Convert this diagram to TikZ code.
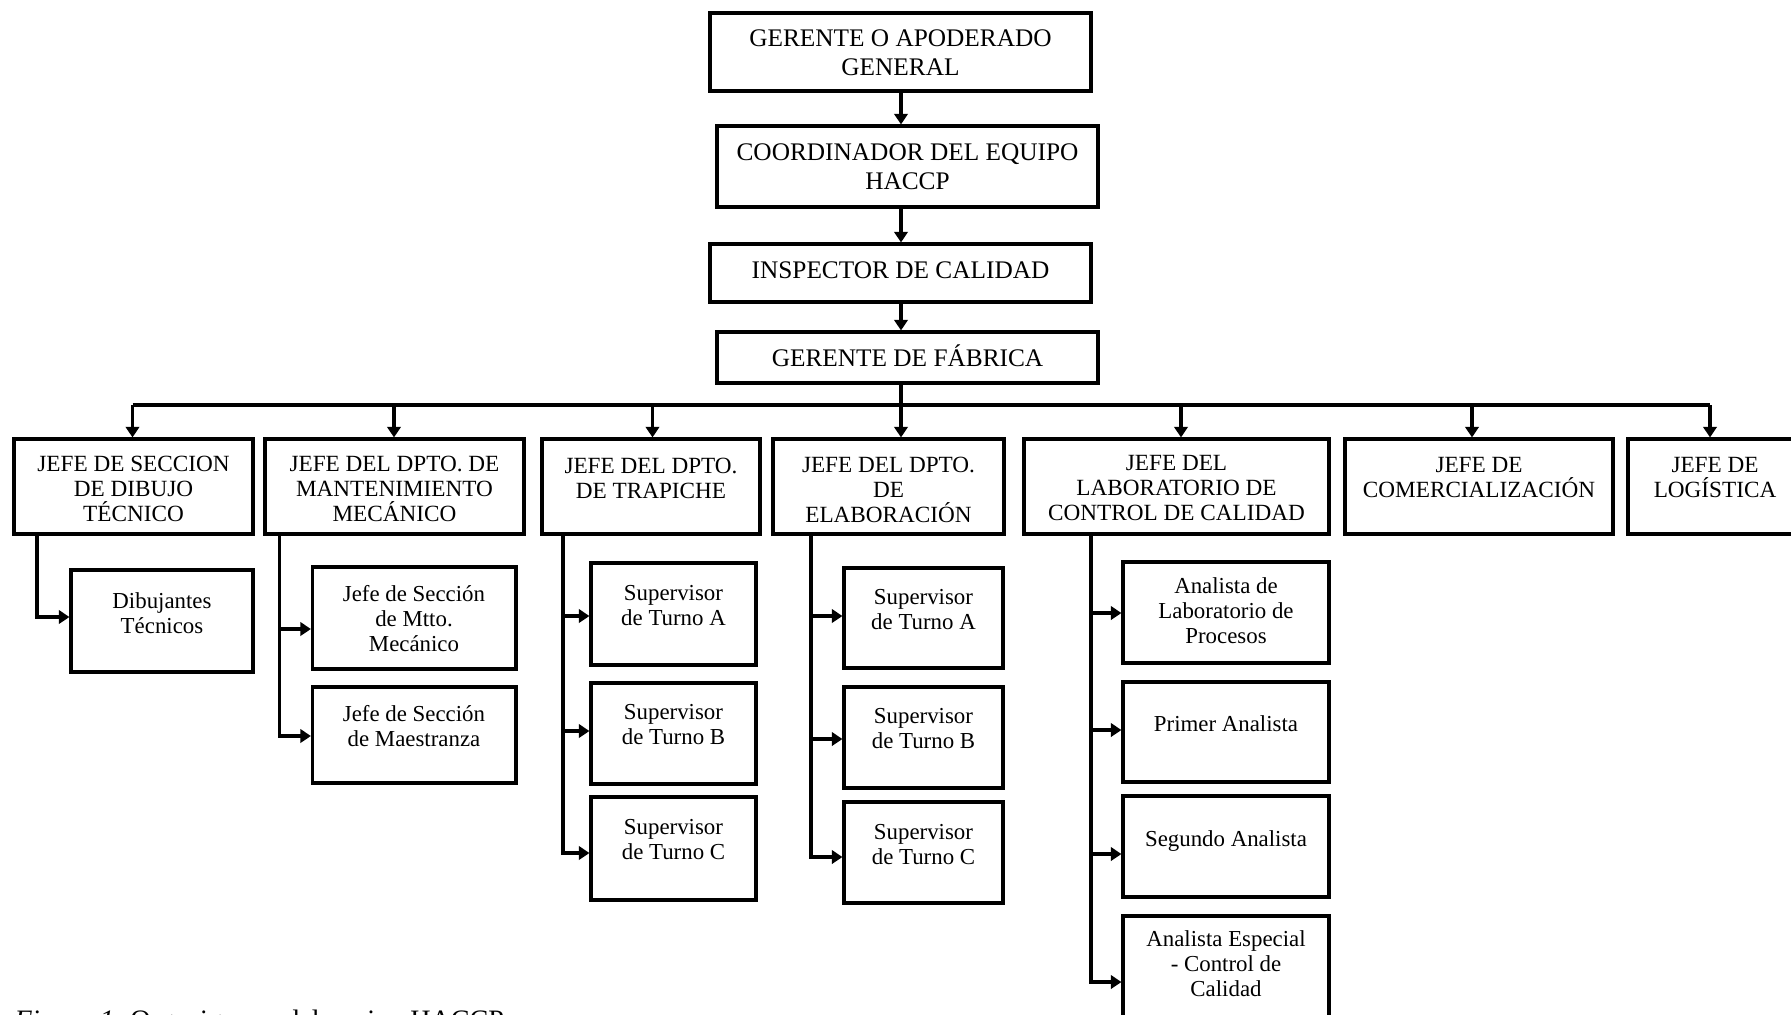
\documentclass[tikz,border=0pt]{standalone}
\usepackage{fontspec}
\setmainfont{Liberation Serif}
\usetikzlibrary{arrows.meta,fit}
\begin{document}
\begin{tikzpicture}[x=0.01cm,y=-0.01cm,
  boxx/.style={draw, line width=0.9pt, inner sep=0pt},
  ln/.style={line width=0.9pt},
  arr/.style={line width=0.9pt, -{Triangle[length=3pt,width=3.8pt]}},
  ta/.style={font=\fontsize{7.2}{8.1}\selectfont, align=center, inner sep=0pt},
  tb/.style={font=\fontsize{6.6}{7.1}\selectfont, align=center, inner sep=0pt, anchor=north},
  tc/.style={font=\fontsize{6.5}{7.1}\selectfont, align=center, inner sep=0pt, anchor=north}]
\useasboundingbox (0,0) rectangle (1791,1014);
\clip (0,0) rectangle (1791,1014);

% top chain
\node[boxx, fit={(710,13) (1091,91)}] (g1) {};
\node[ta, anchor=north] (g1t) at (900.5,29.5) {GERENTE O APODERADO\\GENERAL};
\node[boxx, fit={(717,126) (1098,207)}] (g2) {};
\node[ta, anchor=north] (g2t) at (907.5,143.5) {COORDINADOR DEL EQUIPO\\HACCP};
\node[boxx, fit={(710,244) (1091,302)}] (g3) {};
\node[ta, anchor=north] (g3t) at (900.5,261.5) {INSPECTOR DE CALIDAD};
\node[boxx, fit={(717,332) (1098,383)}] (g4) {};
\node[ta, anchor=base] (g4t) at (907.5,366.5) {GERENTE DE FÁBRICA};

% level 2
\node[boxx, fit={(14,439) (253,534)}] (d1) {};
\node[tb] (d1t) at (133.5,455) {JEFE DE SECCION\\DE DIBUJO\\TÉCNICO};
\node[boxx, fit={(265,439) (524,534)}] (d2) {};
\node[tb] (d2t) at (394.5,455) {JEFE DEL DPTO. DE\\MANTENIMIENTO\\MECÁNICO};
\node[boxx, fit={(542,439) (760,534)}] (d3) {};
\node[tb] (d3t) at (651,457) {JEFE DEL DPTO.\\DE TRAPICHE};
\node[boxx, fit={(773,439) (1004,534)}] (d4) {};
\node[tb] (d4t) at (888.5,456) {JEFE DEL DPTO.\\DE\\ELABORACIÓN};
\node[boxx, fit={(1024,439) (1329,534)}] (d5) {};
\node[tb] (d5t) at (1176.5,455) {JEFE DEL\\LABORATORIO DE\\CONTROL DE CALIDAD};
\node[boxx, fit={(1345,439) (1613,534)}] (d6) {};
\node[tb] (d6t) at (1479,457) {JEFE DE\\COMERCIALIZACIÓN};
\node[boxx, fit={(1628,439) (1802,534)}] (d7) {};
\node[tb] (d7t) at (1715,457) {JEFE DE\\LOGÍSTICA};

% children
\node[boxx, fit={(71,570) (253,672)}] (c11) {};
\node[tc] (c11t) at (162,592) {Dibujantes\\Técnicos};

\node[boxx, fit={(312.5,567) (516,669)}] (c21) {};
\node[tc] (c21t) at (414,585) {Jefe de Sección\\de Mtto.\\Mecánico};
\node[boxx, fit={(312.5,687) (516,783)}] (c22) {};
\node[tc] (c22t) at (414,705) {Jefe de Sección\\de Maestranza};

\node[boxx, fit={(591,563) (756,665)}] (c31) {};
\node[tc] (c31t) at (673.5,585) {Supervisor\\de Turno A};
\node[boxx, fit={(591,683) (756,784)}] (c32) {};
\node[tc] (c32t) at (673.5,704) {Supervisor\\de Turno B};
\node[boxx, fit={(591,797) (756,900)}] (c33) {};
\node[tc] (c33t) at (673.5,819) {Supervisor\\de Turno C};

\node[boxx, fit={(844,568) (1003,668)}] (c41) {};
\node[tc] (c41t) at (923.5,589) {Supervisor\\de Turno A};
\node[boxx, fit={(844,687) (1003,788)}] (c42) {};
\node[tc] (c42t) at (923.5,708) {Supervisor\\de Turno B};
\node[boxx, fit={(844,802) (1003,903)}] (c43) {};
\node[tc] (c43t) at (923.5,824) {Supervisor\\de Turno C};

\node[boxx, fit={(1123,562) (1329,663)}] (c51) {};
\node[tc] (c51t) at (1226,577) {Analista de\\Laboratorio de\\Procesos};
\node[boxx, fit={(1123,682) (1329,782)}] (c52) {};
\node[tc] (c52t) at (1226,715) {Primer Analista};
\node[boxx, fit={(1123,796) (1329,897)}] (c53) {};
\node[tc] (c53t) at (1226,830) {Segundo Analista};
\node[boxx, fit={(1123,916) (1329,1040)}] (c54) {};
\node[tc] (c54t) at (1226,930) {Analista Especial\\- Control de\\Calidad};

% caption (cut by the lower edge)
\node[anchor=base west, inner sep=0pt, font=\fontsize{8}{9}\selectfont] (cap) at (14,1029) {\textit{Figura 1.} Organigrama del equipo HACCP};

% top connectors
\coordinate (p4) at (901,405);
\draw[arr] (p4 |- g1.south) -- (p4 |- g2.north);
\draw[arr] (p4 |- g2.south) -- (p4 |- g3.north);
\draw[arr] (p4 |- g3.south) -- (p4 |- g4.north);
\draw[arr] (p4 |- g4.south) -- (p4 |- d4.north);

% bus
\coordinate (p1) at (132.5,405);
\coordinate (p2) at (394,405);
\coordinate (p3) at (652.5,405);
\coordinate (p5) at (1181,405);
\coordinate (p6) at (1472,405);
\coordinate (p7) at (1710,405);
\draw[ln] (p1) -- (p7);
\draw[arr] (p1) -- (p1 |- d1.north);
\draw[arr] (p2) -- (p2 |- d2.north);
\draw[arr] (p3) -- (p3 |- d3.north);
\draw[arr] (p5) -- (p5 |- d5.north);
\draw[arr] (p6) -- (p6 |- d6.north);
\draw[arr] (p7) -- (p7 |- d7.north);

% child connectors
\coordinate (a11) at (37,617);
\draw[arr] (a11 |- d1.south) -- (a11) -- (a11 -| c11.west);

\coordinate (a21) at (279.5,629);
\coordinate (a22) at (279.5,736);
\draw[arr] (a22 |- d2.south) -- (a22) -- (a22 -| c22.west);
\draw[arr] (a21) -- (a21 -| c21.west);

\coordinate (a31) at (563,616);
\coordinate (a32) at (563,731);
\coordinate (a33) at (563,853);
\draw[arr] (a33 |- d3.south) -- (a33) -- (a33 -| c33.west);
\draw[arr] (a31) -- (a31 -| c31.west);
\draw[arr] (a32) -- (a32 -| c32.west);

\coordinate (a41) at (811,616);
\coordinate (a42) at (811,739);
\coordinate (a43) at (811,857);
\draw[arr] (a43 |- d4.south) -- (a43) -- (a43 -| c43.west);
\draw[arr] (a41) -- (a41 -| c41.west);
\draw[arr] (a42) -- (a42 -| c42.west);

\coordinate (a51) at (1091,613);
\coordinate (a52) at (1091,730);
\coordinate (a53) at (1091,854);
\coordinate (a54) at (1091,982);
\draw[arr] (a54 |- d5.south) -- (a54) -- (a54 -| c54.west);
\draw[arr] (a51) -- (a51 -| c51.west);
\draw[arr] (a52) -- (a52 -| c52.west);
\draw[arr] (a53) -- (a53 -| c53.west);
\end{tikzpicture}
\end{document}
